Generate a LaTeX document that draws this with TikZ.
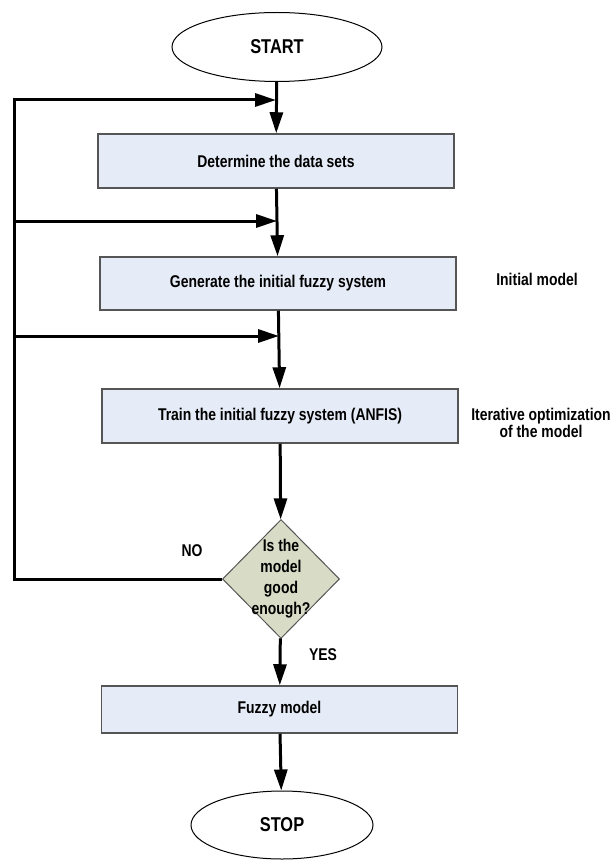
\documentclass[tikz,border=0pt]{standalone}
\usepackage{fontspec}
\setmainfont{Liberation Sans}[FakeStretch=0.82]
\usetikzlibrary{shapes.geometric,arrows.meta}
\definecolor{boxfill}{RGB}{230,236,247}
\definecolor{decfill}{RGB}{216,220,198}
\definecolor{boxline}{RGB}{85,85,85}

\begin{document}
\begin{tikzpicture}[x=1pt, y=-1pt,
        every node/.style={font=\fontsize{17}{21}\selectfont\bfseries},
        terminal/.style={ellipse, draw, line width=1pt, inner sep=0pt, font=\fontsize{20}{24}\selectfont\bfseries},
        process/.style={rectangle, draw=boxline, line width=1.5pt, fill=boxfill, minimum width=356pt, minimum height=54pt, inner sep=0pt},
        decision/.style={diamond, draw=boxline, line width=1pt, fill=decfill, minimum width=117pt, minimum height=119pt, inner sep=0pt},
        note/.style={align=center},
        arrow/.style={-{Triangle[length=21pt,width=13pt]}, line width=3pt}
    ]
        \useasboundingbox (0,0) rectangle (613,861);

        % Start and stop
        \node[terminal, minimum width=210pt, minimum height=69pt] (start) at (277,47) {START};
        \node[terminal, minimum width=182pt, minimum height=68pt] (stop) at (282,825) {STOP};

        % Steps
        \node[process] (datasets) at (276,161) {Determine the data sets};
        \node[process, minimum height=53pt] (generate) at (278,283.5) {Generate the initial fuzzy system};
        \node[process] (train) at (280,416) {Train the initial fuzzy system (ANFIS)};
        \node[process, minimum height=47pt] (fuzzy) at (279.5,709.5) {Fuzzy model};

        % Decision
        \node[decision] (check) at (281,579) {\makebox[0pt]{\smash{\raisebox{-4pt}{\begin{tabular}{@{}c@{}}Is the\\model\\good\\enough?\end{tabular}}}}};

        % Notes
        \node[note] (initial) at (537,279) {Initial model};
        \node[note, font=\fontsize{17}{17.5}\selectfont\bfseries] (iterative) at (541,423) {Iterative optimization\\of the model};
        \node (no) at (192,551) {NO};
        \node (yes) at (323,655) {YES};

        % Feedback points
        \coordinate (back) at (14,579);
        \coordinate (join1) at (276,100);
        \coordinate (join2) at (277,221);
        \coordinate (join3) at (279,336);

        % Arrows
        \draw[arrow] (start) -- (datasets);
        \draw[arrow] (datasets) -- (generate);
        \draw[arrow] (generate) -- (train);
        \draw[arrow] (train) -- (check);
        \draw[arrow] (check) -- (fuzzy);
        \draw[arrow] (fuzzy) -- (stop);
        \draw[arrow] (check.west) -- (back) |- (join1);
        \draw[arrow] (back |- join2) -- (join2);
        \draw[arrow] (back |- join3) -- (join3);
    \end{tikzpicture}
\end{document}
